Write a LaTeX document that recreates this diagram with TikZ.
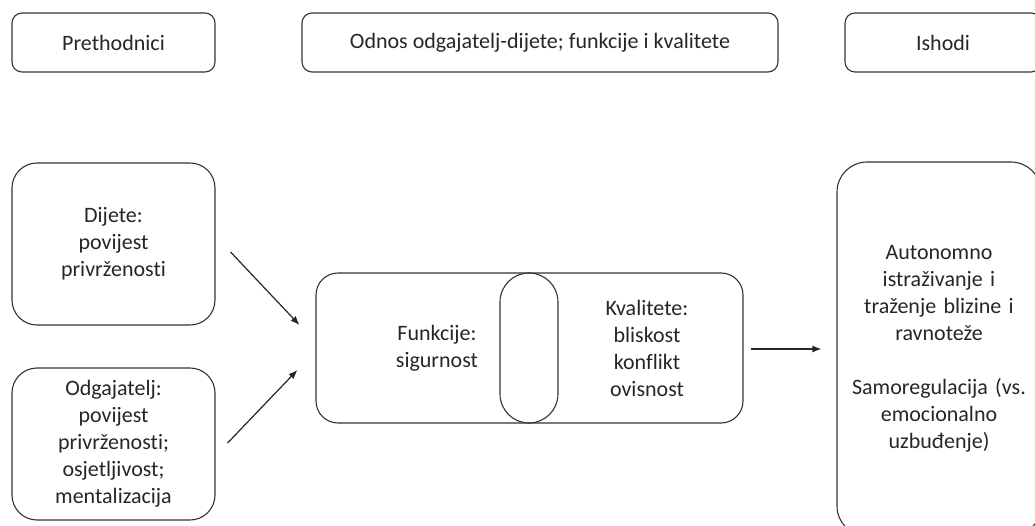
\documentclass[tikz,border=0pt]{standalone}
\usepackage{fontspec}
\setmainfont{Carlito}[Ligatures=NoCommon]
\usetikzlibrary{arrows.meta,positioning,calc}

\begin{document}
\begin{tikzpicture}[x=1pt,y=-1pt,
  box/.style={draw=black!80,line width=1.1pt,rounded corners=#1,align=center,inner sep=0pt,
    font=\fontsize{22}{27}\selectfont,text=black!85},
  box/.default=10pt,
  arr/.style={-{Latex[length=9pt,width=7pt]},line width=1.2pt,black!85}]
\clip (0,0) rectangle (1035,526);
\node[box,minimum width=203,minimum height=59] (prethodnici) at (113.5,42.5) {Prethodnici};
\node[box,minimum width=476,minimum height=59] (odnos) at (540,42.5) {Odnos odgajatelj-dijete; funkcije i kvalitete};
\node[box,minimum width=196,minimum height=59] (ishodi) at (943,42.5) {Ishodi};
\node[box=25pt,minimum width=203,minimum height=162] (dijete) at (113.5,244) {Dijete:\\povijest\\privrženosti};
\node[box=25pt,minimum width=203,minimum height=152] (odgajatelj) at (113.5,444) {Odgajatelj:\\povijest\\privrženosti;\\osjetljivost;\\mentalizacija};
\node[box=22pt,minimum width=427,minimum height=150] (odnosi) at (529.5,348) {};
\node[box=29pt,minimum width=58,minimum height=150] (spoj) at (529,348) {};
\node[align=center,font=\fontsize{22}{27}\selectfont,text=black!85] (funkcije) at (437,348) {Funkcije:\\sigurnost};
\node[align=center,font=\fontsize{22}{27}\selectfont,text=black!85] (kvalitete) at (647,348) {Kvalitete:\\bliskost\\konflikt\\ovisnost};
\node[box=30pt,minimum width=204,minimum height=374,text width=200] (rezultati) at (939,349) {Autonomno\\istraživanje i\\traženje blizine i\\ravnoteže\\[27pt]Samoregulacija (vs.\\emocionalno\\uzbuđenje)};
\draw[arr] ($(dijete.east)+(15,8)$) -- ($(odnosi.west)+(-16,-23)$);
\draw[arr] ($(odgajatelj.east)+(12,-1)$) -- ($(odnosi.west)+(-18,22)$);
\draw[arr] ($(odnosi.east)+(7,1)$) -- ($(rezultati.west)+(-15,0)$);
\end{tikzpicture}
\end{document}
